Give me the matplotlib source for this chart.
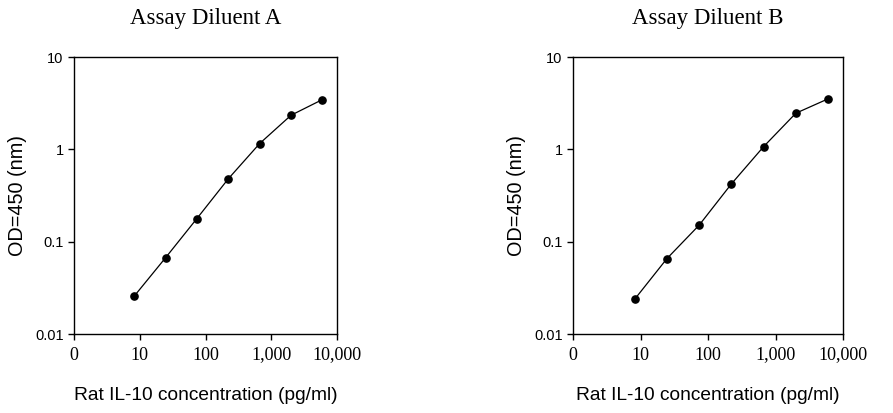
import matplotlib
matplotlib.use("Agg")
import matplotlib.pyplot as plt
from matplotlib.ticker import FixedLocator, FixedFormatter, NullLocator

conc = [8.2, 24.7, 74, 222, 667, 2000, 6000]
od_a = [0.0256, 0.067, 0.178, 0.479, 1.156, 2.34, 3.46]
od_b = [0.0238, 0.0657, 0.151, 0.422, 1.07, 2.46, 3.52]
titles = ["Assay Diluent A", "Assay Diluent B"]
xticks = [1, 10, 100, 1000, 10000]
xticklabels = ["0", "10", "100", "1,000", "10,000"]
yticks = [0.01, 0.1, 1, 10]
yticklabels = ["0.01", "0.1", "1", "10"]
xlabel = "Rat IL-10 concentration (pg/ml)"
ylabel = "OD=450 (nm)"

fig = plt.figure(figsize=(8.93, 4.13), dpi=100)
positions = [[74/893, 79/413, 263/893, 277/413],
             [573/893, 79/413, 270/893, 277/413]]
series = [od_a, od_b]

for pos, od, title in zip(positions, series, titles):
    ax = fig.add_axes(pos)
    ax.set_xscale("log")
    ax.set_yscale("log")
    ax.plot(conc, od, color="black", lw=0.9, marker="o", ms=5.2)
    ax.set_xlim(1, 10000)
    ax.set_ylim(0.01, 10)
    ax.xaxis.set_major_locator(FixedLocator(xticks))
    ax.xaxis.set_major_formatter(FixedFormatter(xticklabels))
    ax.xaxis.set_minor_locator(NullLocator())
    ax.yaxis.set_major_locator(FixedLocator(yticks))
    ax.yaxis.set_major_formatter(FixedFormatter(yticklabels))
    ax.yaxis.set_minor_locator(NullLocator())
    ax.tick_params(direction="out", length=4, width=1, top=False, right=False)
    ax.tick_params(axis="x", pad=5)
    for lab in ax.get_xticklabels():
        lab.set_fontfamily("Liberation Serif")
        lab.set_fontsize(13)
    for lab in ax.get_yticklabels():
        lab.set_fontfamily("Liberation Sans")
        lab.set_fontsize(10.5)
    for s in ax.spines.values():
        s.set_linewidth(1.0)
    ax.set_title(title, fontfamily="Liberation Serif", fontsize=16.5, pad=24)
    ax.set_xlabel(xlabel, fontfamily="Liberation Sans", fontsize=13.8, labelpad=17)
    ax.set_ylabel(ylabel, fontfamily="Liberation Sans", fontsize=14.3, labelpad=6)

fig.savefig("out.png", dpi=100)
